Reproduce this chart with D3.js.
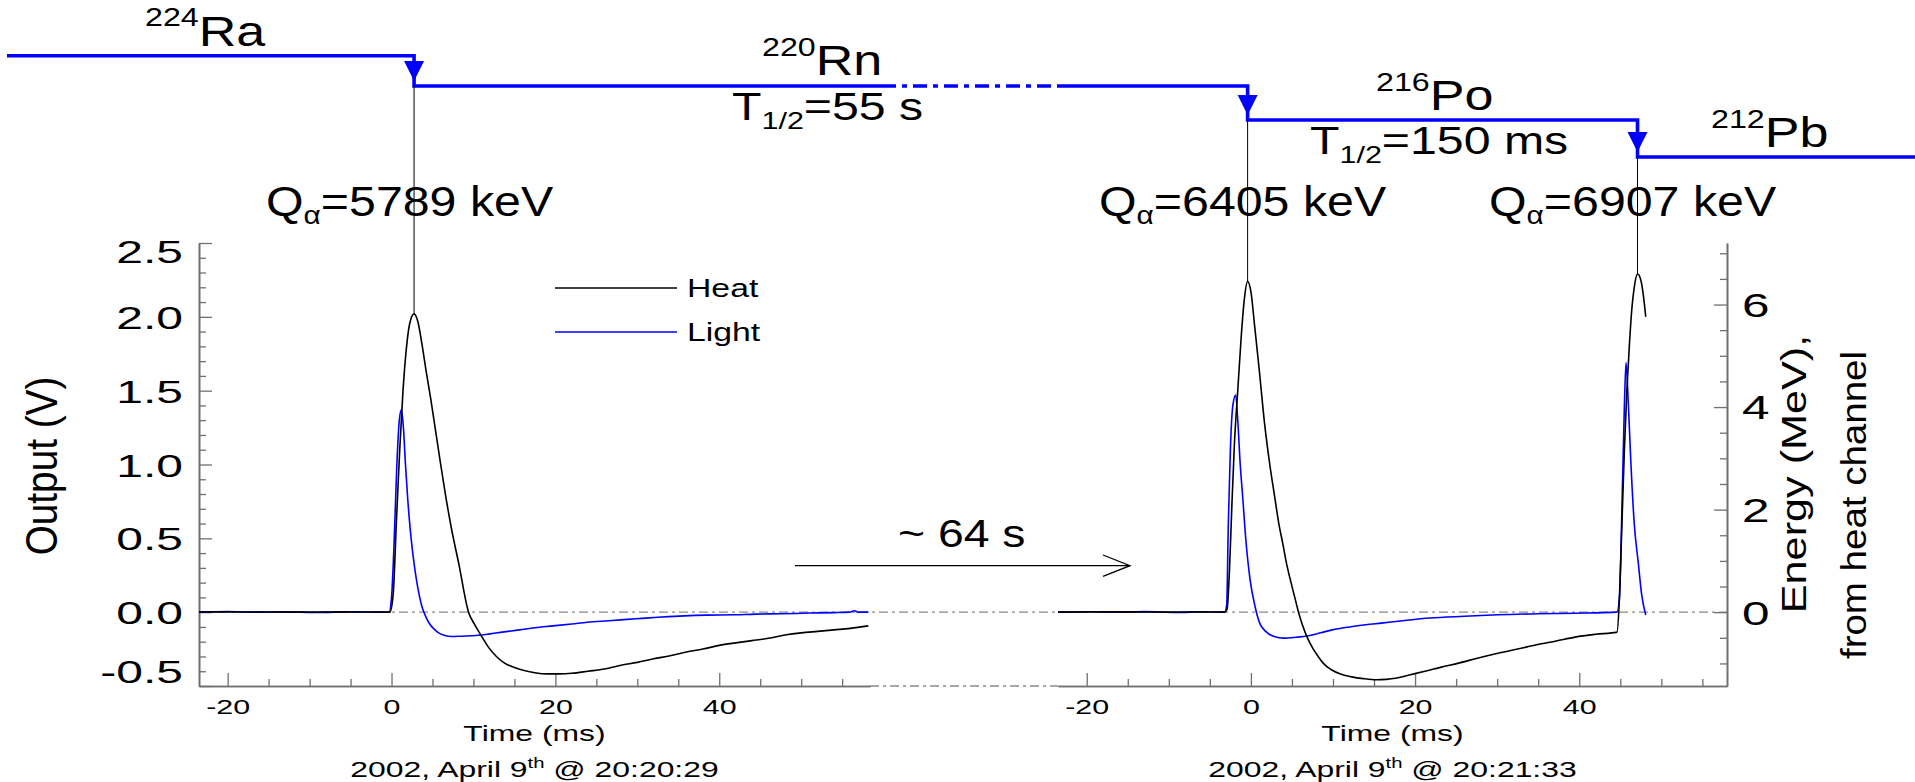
<!DOCTYPE html>
<html><head><meta charset="utf-8">
<script src="https://cdn.jsdelivr.net/npm/d3@7"></script>
<style>
html,body{margin:0;padding:0;background:#fff;}
svg{display:block;}
text{font-family:"Liberation Sans",Arial,Helvetica,sans-serif;fill:#000;}
</style>
</head><body>
<svg id="c" width="1915" height="782"></svg>
<script>
// ---------------- data ----------------
const timeTicks = [-20, 0, 20, 40];
const timeTickLabels = ["-20", "0", "20", "40"];
const voltTicks = [-0.5, 0, 0.5, 1, 1.5, 2, 2.5];
const voltTickLabels = ["-0.5", "0.0", "0.5", "1.0", "1.5", "2.0", "2.5"];
const energyTicks = [0, 2, 4, 6];
const energyTickLabels = ["0", "2", "4", "6"];
const energyPerVolt = 2.88; // MeV per volt, heat channel calibration

// event 1 (left panel) : [time ms, output V]
const heatA = [[-23.5,0.003],[-18,0.001],[-12,0.0],[-6,0.002],[-1,0.0],[-0.2,0.0],[0.2,0.12],[0.6,0.62],[1.0,1.1],[1.4,1.5],[1.8,1.78],[2.2,1.95],[2.75,2.02],[3.2,1.97],[3.7,1.82],[4.2,1.64],[4.8,1.44],[5.4,1.22],[6.0,1.0],[6.6,0.79],[7.3,0.57],[8.2,0.33],[9.4,0.0],[10.1,-0.08],[10.9,-0.155],[11.8,-0.235],[12.8,-0.30],[13.8,-0.345],[15,-0.375],[16.2,-0.395],[17.5,-0.41],[19,-0.418],[20.5,-0.418],[22,-0.414],[24,-0.40],[26,-0.385],[28,-0.36],[30,-0.34],[32,-0.316],[34,-0.295],[36,-0.27],[38,-0.25],[40,-0.225],[42,-0.208],[44,-0.193],[46,-0.177],[48,-0.155],[50,-0.14],[52,-0.13],[54,-0.12],[56,-0.11],[58.2,-0.093]];
const lightA = [[-23.5,0.0],[-20,0.005],[-17,0.0],[-13,0.003],[-9,-0.002],[-5,0.002],[-1,0.0],[-0.3,0.0],[0.0,0.1],[0.3,0.45],[0.65,1.0],[0.95,1.3],[1.2,1.37],[1.45,1.25],[1.7,1.0],[1.96,0.78],[2.25,0.58],[2.55,0.42],[2.85,0.29],[3.1,0.2],[3.4,0.11],[3.7,0.04],[4.1,-0.02],[4.6,-0.075],[5.2,-0.115],[5.8,-0.142],[6.5,-0.158],[7.3,-0.165],[8.5,-0.163],[9.7,-0.16],[11,-0.155],[12,-0.147],[13.5,-0.135],[15.6,-0.12],[17.5,-0.105],[19.7,-0.093],[22,-0.08],[23.9,-0.068],[26.5,-0.058],[29.8,-0.045],[33,-0.033],[35.7,-0.025],[38.5,-0.02],[41.7,-0.018],[44.5,-0.013],[47.6,-0.011],[51,-0.006],[54,-0.003],[55.9,0.0],[56.5,0.01],[57,0.0],[58.2,0.0]];

// events 2 and 3 (right panel)
const heatB = [[-23.5,0.0],[-20,0.002],[-15,0.002],[-10,0.0],[-6,0.002],[-3.2,0.0],[-2.9,0.02],[-2.6,0.3],[-2.3,0.75],[-2.0,1.15],[-1.6,1.5],[-1.2,1.85],[-0.8,2.12],[-0.4,2.24],[0.0,2.17],[0.47,1.93],[1.0,1.65],[1.66,1.28],[2.3,1.0],[2.9,0.78],[3.4,0.6],[3.9,0.46],[4.3,0.34],[4.8,0.22],[5.3,0.11],[5.8,0.0],[6.3,-0.09],[6.9,-0.176],[7.6,-0.25],[8.2,-0.3],[8.8,-0.345],[9.8,-0.39],[11,-0.42],[12.3,-0.438],[13.7,-0.45],[15.3,-0.458],[16.5,-0.455],[17.6,-0.448],[19.3,-0.425],[21.2,-0.4],[23.2,-0.372],[25.3,-0.345],[27.7,-0.31],[30.1,-0.278],[32.5,-0.25],[34.8,-0.221],[37.2,-0.195],[39.5,-0.169],[42,-0.15],[44.6,-0.135],[44.9,0.1],[45.2,0.6],[45.5,1.1],[45.8,1.5],[46.1,1.8],[46.4,2.05],[46.7,2.2],[47.1,2.29],[47.5,2.25],[47.8,2.15],[48.1,2.0]];
const lightB = [[-23.5,0.0],[-20,0.003],[-16,0.0],[-13,0.004],[-9,-0.002],[-6,0.003],[-3.2,0.0],[-2.95,0.05],[-2.75,0.6],[-2.5,1.1],[-2.2,1.4],[-1.85,1.47],[-1.6,1.3],[-1.3,1.0],[-1.0,0.78],[-0.6,0.48],[-0.1,0.22],[0.5,0.04],[1.07,-0.074],[1.8,-0.13],[2.84,-0.165],[4.0,-0.176],[5.5,-0.17],[7.0,-0.16],[8.5,-0.14],[9.9,-0.12],[12,-0.1],[14,-0.085],[15.9,-0.074],[18.5,-0.058],[21.8,-0.04],[26,-0.028],[30.1,-0.018],[35,-0.011],[39.5,-0.007],[44.6,0.0],[44.9,0.1],[45.2,0.7],[45.5,1.4],[45.7,1.69],[45.95,1.45],[46.3,1.0],[46.7,0.6],[47.2,0.33],[47.6,0.12],[48.1,-0.02]];

// decay chain
const isotopeMass = ["224", "220", "216", "212"];
const isotopeSymbol = ["Ra", "Rn", "Po", "Pb"];
const halfLives = ["55 s", "150 ms"];
const qValues = ["5789", "6405", "6907"];
const peakTimes = [2.75, -0.4, 47.1];     // heat-pulse maxima (ms)
const peakPanels = [0, 1, 1];
const peakVolts = [2.02, 2.24, 2.29];
const dates = ["20:20:29", "20:21:33"];
const gapLabel = "~ 64 s";
const seriesNames = ["Heat", "Light"];
const seriesColors = ["#000000", "#0000ff"];

// ---------------- layout ----------------
const svg = d3.select("#c");
const Y0 = 686, Y1 = 243;
const xA = d3.scaleLinear([-23.5, 58.4], [199, 870]);
const xB = d3.scaleLinear([-23.5, 58.0], [1058, 1727]);
const y = d3.scaleLinear([-0.5, 2.5], [Y0, Y1]);
const yE = d3.scaleLinear([-0.5 * energyPerVolt, 2.5 * energyPerVolt], [Y0, Y1]);
const xs = [xA, xB];
const axisColor = "#707070";
const dashDot = "9,4,3,4";

function stext(sel, x, yy, parts, o) {
  const t = sel.append("text")
    .attr("transform", `translate(${x},${yy}) rotate(${o.rot || 0}) scale(${o.sx || 1},1)`)
    .attr("text-anchor", o.anchor || "start")
    .attr("font-size", o.size);
  parts.forEach(p => {
    const ts = t.append("tspan").text(p.t);
    if (p.size) ts.attr("font-size", p.size);
    if (p.dy) ts.attr("dy", p.dy);
  });
  return t;
}

// zero line (dash-dot) and gap continuation of bottom axis
svg.append("line").attr("x1", xA.range()[0]).attr("x2", xB.range()[1])
  .attr("y1", y(0)).attr("y2", y(0))
  .attr("stroke", "#8a8a8a").attr("stroke-width", 1.3).attr("stroke-dasharray", dashDot);
svg.append("line").attr("x1", xA.range()[1]).attr("x2", xB.range()[0])
  .attr("y1", Y0).attr("y2", Y0)
  .attr("stroke", "#8a8a8a").attr("stroke-width", 1.3).attr("stroke-dasharray", dashDot);

// axes
function styleAxis(g) {
  g.selectAll("path.domain").attr("stroke", axisColor).attr("stroke-width", 1.6);
  g.selectAll(".tick line").attr("stroke", axisColor).attr("stroke-width", 1.3);
}
// left y axis
const yMinor = d3.range(-0.4, 2.45, 0.1).map(v => +v.toFixed(2)).filter(v => Math.abs(v * 2 - Math.round(v * 2)) > 1e-6);
svg.append("g").attr("transform", `translate(${xA.range()[0]},0)`)
  .call(d3.axisLeft(y).tickValues(yMinor).tickSize(-7).tickSizeOuter(0).tickFormat(""))
  .call(styleAxis);
const gyl = svg.append("g").attr("transform", `translate(${xA.range()[0]},0)`)
  .call(d3.axisLeft(y).tickValues(voltTicks).tickSize(-13).tickSizeOuter(0)
    .tickFormat((d, i) => voltTickLabels[i]))
  .call(styleAxis);
gyl.selectAll(".tick text").each(function (d) {
  const nudge = d === 2.5 ? 8 : (d === -0.5 ? -15 : 0);
  d3.select(this).attr("x", null).attr("dy", "0.36em").attr("fill", "#000")
    .attr("font-size", 32).attr("font-family", null)
    .attr("transform", `translate(-16,${nudge}) scale(1.5,1)`).attr("text-anchor", "end");
});

// bottom axes
xs.forEach(x => {
  const minor = d3.range(-20, 56, 5).filter(v => v % 20 !== 0);
  svg.append("g").attr("transform", `translate(0,${Y0})`)
    .call(d3.axisBottom(x).tickValues(minor).tickSize(-7).tickSizeOuter(0).tickFormat(""))
    .call(styleAxis);
  const g = svg.append("g").attr("transform", `translate(0,${Y0})`)
    .call(d3.axisBottom(x).tickValues(timeTicks).tickSize(-13).tickSizeOuter(0)
      .tickFormat((d, i) => timeTickLabels[i]))
    .call(styleAxis);
  g.selectAll(".tick text").attr("y", null).attr("dy", null).attr("fill", "#000")
    .attr("font-size", 21).attr("font-family", null)
    .attr("transform", "translate(0,28) scale(1.45,1)").attr("text-anchor", "middle");
});

// right energy axis
const eMinor = d3.range(-1, 7.01, 0.5).filter(v => v % 2 !== 0);
svg.append("g").attr("transform", `translate(${xB.range()[1]},0)`)
  .call(d3.axisRight(yE).tickValues(eMinor).tickSize(-7).tickSizeOuter(0).tickFormat(""))
  .call(styleAxis);
const gyr = svg.append("g").attr("transform", `translate(${xB.range()[1]},0)`)
  .call(d3.axisRight(yE).tickValues(energyTicks).tickSize(-13).tickSizeOuter(0)
    .tickFormat((d, i) => energyTickLabels[i]))
  .call(styleAxis);
gyr.selectAll(".tick text").attr("x", null).attr("dy", "0.36em").attr("fill", "#000")
  .attr("font-size", 33).attr("font-family", null)
  .attr("transform", "translate(15,0) scale(1.5,1)").attr("text-anchor", "start");

// traces
const panels = [[heatA, lightA], [heatB, lightB]];
panels.forEach((pair, pi) => {
  const x = xs[pi];
  const line = d3.line().x(d => x(d[0])).y(d => y(d[1])).curve(d3.curveMonotoneX);
  [1, 0].forEach(si => {
    svg.append("path").datum(pair[si]).attr("d", line)
      .attr("fill", "none").attr("stroke", seriesColors[si]).attr("stroke-width", 1.6)
      .attr("stroke-linejoin", "round");
  });
});

// legend
seriesNames.forEach((nm, i) => {
  const ly = 288 + i * 44;
  svg.append("line").attr("x1", 555).attr("x2", 677).attr("y1", ly).attr("y2", ly)
    .attr("stroke", seriesColors[i]).attr("stroke-width", 1.6);
  stext(svg, 687, ly + 9, [{ t: nm }], { size: 25, sx: 1.35 });
});

// decay chain scheme
const levels = [55.7, 86, 120, 157];
const vx = peakTimes.map((t, i) => xs[peakPanels[i]](t));
const blue = "#0000ff";
const chainPts = [[7, levels[0]], [vx[0], levels[0]], [vx[0], levels[1]], [882, levels[1]]];
svg.append("path").attr("d", d3.line()(chainPts)).attr("fill", "none")
  .attr("stroke", blue).attr("stroke-width", 3.6);
svg.append("line").attr("x1", 882).attr("x2", xB.range()[0]).attr("y1", levels[1]).attr("y2", levels[1])
  .attr("stroke", blue).attr("stroke-width", 3.6).attr("stroke-dasharray", "14,6,5,6");
const chainPts2 = [[xB.range()[0], levels[1]], [vx[1], levels[1]], [vx[1], levels[2]], [vx[2], levels[2]], [vx[2], levels[3]], [1915, levels[3]]];
svg.append("path").attr("d", d3.line()(chainPts2)).attr("fill", "none")
  .attr("stroke", blue).attr("stroke-width", 3.6);
vx.forEach((x, i) => {
  const lo = levels[i + 1];
  svg.append("path").attr("d", `M${x - 10},${lo - 25}L${x + 10},${lo - 25}L${x},${lo - 5}Z`).attr("fill", blue);
  svg.append("line").attr("x1", x).attr("x2", x).attr("y1", lo).attr("y2", y(peakVolts[i]))
    .attr("stroke", "#000").attr("stroke-width", 1);
});

// isotope labels
const isoPos = [[145, 46, -20], [762, 75, -19], [1376, 110, -19], [1711, 147, -19]];
isotopeMass.forEach((m, i) => {
  const p = isoPos[i];
  stext(svg, p[0], p[1], [{ t: m, size: 26, dy: p[2] }, { t: isotopeSymbol[i], dy: -p[2] }], { size: 42, sx: 1.24 });
});
// half lives
const hlPos = [[732, 120], [1310, 154]];
halfLives.forEach((h, i) => {
  stext(svg, hlPos[i][0], hlPos[i][1], [{ t: "T" }, { t: "1/2", size: 24, dy: 9 }, { t: "=" + h, dy: -9 }], { size: 38, sx: 1.27 });
});
// Q values
const qPos = [266, 1099, 1489];
qValues.forEach((q, i) => {
  stext(svg, qPos[i], 216, [{ t: "Q" }, { t: "α", size: 26, dy: 8 }, { t: "=" + q + " keV", dy: -8 }], { size: 42, sx: 1.15 });
});

// gap arrow
svg.append("line").attr("x1", 795).attr("x2", 1130).attr("y1", 565.7).attr("y2", 565.7)
  .attr("stroke", "#000").attr("stroke-width", 1.3);
svg.append("path").attr("d", "M1103,555L1130,565.7L1103,576.4").attr("fill", "none")
  .attr("stroke", "#000").attr("stroke-width", 1.3);
stext(svg, 898, 547, [{ t: gapLabel }], { size: 38, sx: 1.22 });

// axis titles
xs.forEach((x, i) => {
  const cx = (x.range()[0] + x.range()[1]) / 2;
  stext(svg, cx, 741, [{ t: "Time (ms)" }], { size: 22, sx: 1.45, anchor: "middle" });
  stext(svg, cx, 777, [{ t: "2002, April 9" }, { t: "th", size: 14, dy: -9 }, { t: " @ " + dates[i], dy: 9 }],
    { size: 22, sx: 1.45, anchor: "middle" });
});
stext(svg, 57, 466, [{ t: "Output (V)" }], { size: 44, sx: 0.88, rot: -90, anchor: "middle" });
stext(svg, 1806, 474, [{ t: "Energy (MeV)," }], { size: 36, sx: 1.2, rot: -90, anchor: "middle" });
stext(svg, 1866, 505, [{ t: "from heat channel" }], { size: 35, sx: 1.1, rot: -90, anchor: "middle" });
</script>
</body></html>
